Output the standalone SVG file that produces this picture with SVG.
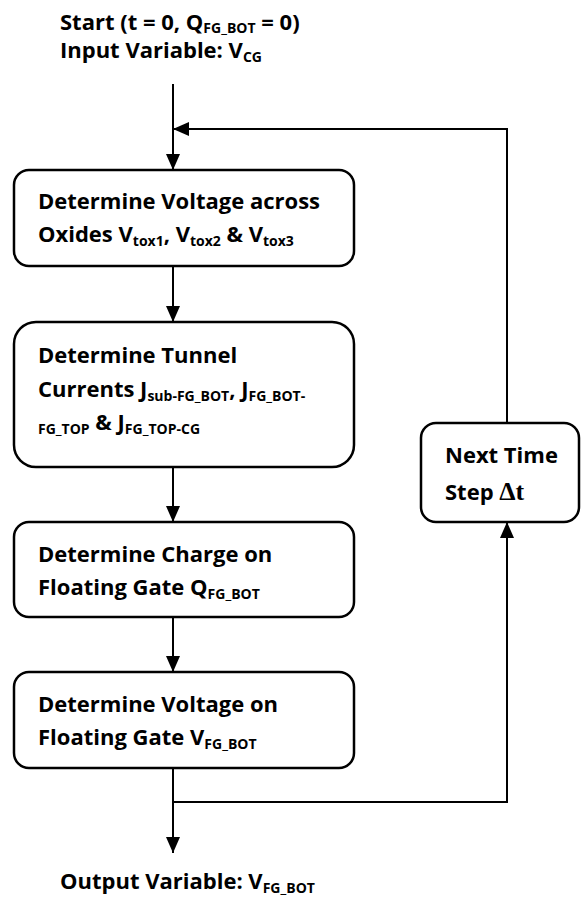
<svg xmlns="http://www.w3.org/2000/svg" width="582" height="901" viewBox="0 0 582 901">
<style>
.t{font-family:"Open Sans","Liberation Sans",sans-serif;font-weight:bold;font-size:22px;fill:#000}
.s{font-size:14px}
.box{fill:#fff;stroke:#000;stroke-width:2.5}
.ln{fill:none;stroke:#000;stroke-width:2}
.d{font-family:"Liberation Serif",serif;font-weight:bold;font-size:26px}
</style>
<defs>
<marker id="ah" viewBox="0 0 16 14" refX="16" refY="7" markerWidth="16" markerHeight="14" markerUnits="userSpaceOnUse" orient="auto">
<path d="M0,0 L16,7 L0,14 Z" fill="#000"/>
</marker>
</defs>
<g id="start">
<text class="t" x="60" y="30">Start (t = 0, Q<tspan class="s" dy="3">FG_BOT</tspan><tspan dy="-3"> = 0)</tspan></text>
<text class="t" x="60" y="58">Input Variable: V<tspan class="s" dy="4">CG</tspan></text>
</g>
<g id="connectors">
<path class="ln" d="M173,84 V170" marker-end="url(#ah)"/>
<path class="ln" d="M507,423 V129 H173" marker-end="url(#ah)"/>
<path class="ln" d="M173,266 V322" marker-end="url(#ah)"/>
<path class="ln" d="M173,467 V522" marker-end="url(#ah)"/>
<path class="ln" d="M173,617 V672" marker-end="url(#ah)"/>
<path class="ln" d="M173,768 V853" marker-end="url(#ah)"/>
<path class="ln" d="M173,802 H507 V522" marker-end="url(#ah)"/>
</g>
<g id="n1">
<rect class="box" x="14" y="170" width="340" height="96" rx="15"/>
<text class="t" x="38" y="209">Determine Voltage across</text>
<text class="t" x="38" y="242">Oxides V<tspan class="s" dy="4">tox1</tspan><tspan dy="-4">, V</tspan><tspan class="s" dy="4">tox2</tspan><tspan dy="-4"> &amp; V</tspan><tspan class="s" dy="4">tox3</tspan></text>
</g>
<g id="n2">
<rect class="box" x="14" y="322" width="340" height="145" rx="22"/>
<text class="t" x="38" y="363">Determine Tunnel</text>
<text class="t" x="38" y="397">Currents J<tspan class="s" dy="4">sub-FG_BOT</tspan><tspan dy="-4">, J</tspan><tspan class="s" dy="4">FG_BOT-</tspan></text>
<text class="t" x="38" y="430"><tspan class="s" dy="4">FG_TOP</tspan><tspan dy="-4"> &amp; J</tspan><tspan class="s" dy="4">FG_TOP-CG</tspan></text>
</g>
<g id="n3">
<rect class="box" x="14" y="522" width="340" height="95" rx="15"/>
<text class="t" x="38" y="562">Determine Charge on</text>
<text class="t" x="38" y="595">Floating Gate Q<tspan class="s" dy="4">FG_BOT</tspan></text>
</g>
<g id="n4">
<rect class="box" x="14" y="672" width="340" height="96" rx="15"/>
<text class="t" x="38" y="712">Determine Voltage on</text>
<text class="t" x="38" y="745">Floating Gate V<tspan class="s" dy="4">FG_BOT</tspan></text>
</g>
<g id="n5">
<rect class="box" x="421" y="423" width="158" height="99" rx="15"/>
<text class="t" x="445" y="463">Next Time</text>
<text class="t" x="445" y="500">Step <tspan class="d">Δt</tspan></text>
</g>
<g id="end">
<text class="t" x="60" y="889">Output Variable: V<tspan class="s" dy="4">FG_BOT</tspan></text>
</g>
</svg>
